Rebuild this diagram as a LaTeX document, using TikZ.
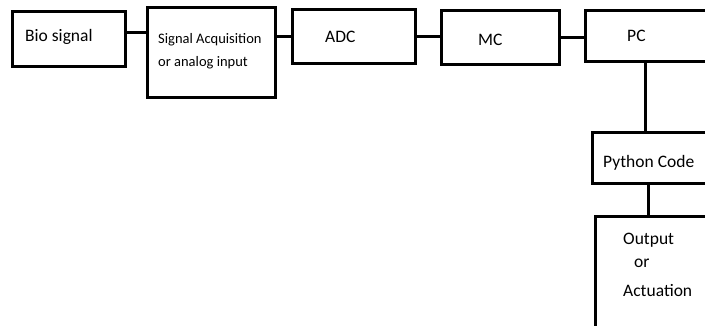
\documentclass[tikz,border=0pt]{standalone}
\usepackage{fontspec}
\setmainfont{Carlito}
\begin{document}
\begin{tikzpicture}[x=1pt,y=1pt,
  box/.style={draw=black,line width=3pt,rectangle,inner sep=0pt},
  conn/.style={draw=black,line width=3pt},
  txt/.style={inner sep=0pt,anchor=base west,font=\fontsize{17.5}{21}\selectfont},
  stxt/.style={inner sep=0pt,anchor=base west,font=\fontsize{14.5}{18}\selectfont}]
\useasboundingbox (0,0) rectangle (705,326);
% boxes (centres in picture coordinates, y = 326 - image y)
\node[box,minimum width=113pt,minimum height=55pt] (bio) at (68.5,286.5) {};
\node[box,minimum width=128pt,minimum height=90pt] (sa) at (211,273) {};
\node[box,minimum width=123pt,minimum height=54pt] (adc) at (353.5,289) {};
\node[box,minimum width=118pt,minimum height=54pt] (mc) at (500,288) {};
\node[box,minimum width=121pt,minimum height=51pt] (pc) at (645.5,289.5) {};
\node[box,minimum width=128pt,minimum height=51pt] (py) at (656,167.5) {};
\node[box,minimum width=125pt,minimum height=123pt] (out) at (657.5,47.5) {};
% texts
\node[txt] (tbio) at (25,284) {Bio signal};
\node[stxt] (tsa1) at (158,282) {Signal Acquisition};
\node[stxt] (tsa2) at (158,259) {or analog input};
\node[txt] (tadc) at (325,283) {ADC};
\node[txt] (tmc) at (478,280) {MC};
\node[txt] (tpc) at (627,284) {PC};
\node[txt] (tpy) at (603,158) {Python Code};
\node[txt] (tout1) at (623,81) {Output};
\node[txt] (tout2) at (634,58) {or};
\node[txt] (tout3) at (623,29) {Actuation};
% connectors
\draw[conn] ([yshift=6.5pt]bio.east) -- ([yshift=6.5pt]bio.east -| sa.west);
\draw[conn] ([yshift=16pt]sa.east) -- ([yshift=16pt]sa.east -| adc.west);
\draw[conn] (adc.east) -- (adc.east -| mc.west);
\draw[conn] (mc.east) -- (mc.east -| pc.west);
\draw[conn] (pc.south) -- (pc.south |- py.north);
\draw[conn] ([xshift=-8pt]py.south) -- ([xshift=-8pt]py.south |- out.north);
\end{tikzpicture}
\end{document}
